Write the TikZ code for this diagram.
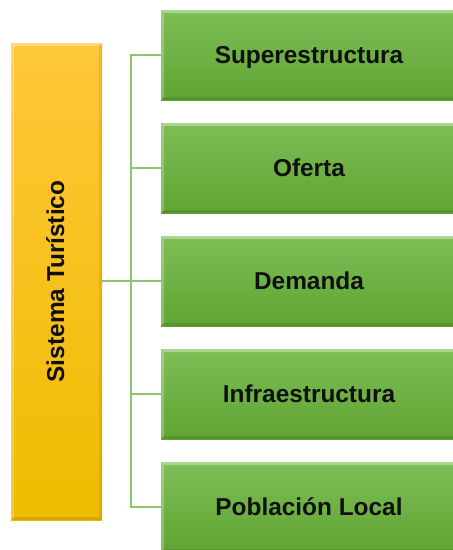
\documentclass[tikz,border=0pt]{standalone}
\usepackage{fontspec}
\setmainfont{Liberation Sans}
\definecolor{gtop}{HTML}{7DBE56}
\definecolor{gbot}{HTML}{60A433}
\definecolor{ytop}{HTML}{FFC73A}
\definecolor{ybot}{HTML}{EFBC00}
\definecolor{connc}{HTML}{8DC56F}
\definecolor{txtc}{HTML}{101010}
\tikzset{
  bevel/.style={path picture={
    \fill[white,opacity=0.35] (path picture bounding box.north west) -- (path picture bounding box.north east) -- ([xshift=-3pt,yshift=-3pt]path picture bounding box.north east) -- ([xshift=3pt,yshift=-3pt]path picture bounding box.north west) -- cycle;
    \fill[white,opacity=0.25] (path picture bounding box.north west) -- (path picture bounding box.south west) -- ([xshift=3pt,yshift=3pt]path picture bounding box.south west) -- ([xshift=3pt,yshift=-3pt]path picture bounding box.north west) -- cycle;
    \fill[black,opacity=0.10] (path picture bounding box.south west) -- (path picture bounding box.south east) -- ([xshift=-3pt,yshift=3pt]path picture bounding box.south east) -- ([xshift=3pt,yshift=3pt]path picture bounding box.south west) -- cycle;
    \fill[black,opacity=0.08] (path picture bounding box.north east) -- (path picture bounding box.south east) -- ([xshift=-3pt,yshift=3pt]path picture bounding box.south east) -- ([xshift=-3pt,yshift=-3pt]path picture bounding box.north east) -- cycle;
  }},
  greenbox/.style={rectangle, draw=none, top color=gtop, bottom color=gbot, bevel,
    minimum width=296pt, minimum height=90pt, inner sep=0pt},
  boxtext/.style={inner sep=0pt, text height=16pt, text depth=0pt,
    font=\bfseries\fontsize{24.4}{28}\selectfont, text=txtc},
  yellowbox/.style={rectangle, draw=none, top color=ytop, bottom color=ybot, bevel,
    minimum width=91pt, minimum height=477pt, inner sep=0pt},
  vlabel/.style={rotate=90, font=\bfseries\fontsize{24.4}{28}\selectfont, text=txtc, inner sep=0pt,
    text height=16pt, text depth=0pt},
  conn/.style={draw=connc, line width=1.5pt}
}
\begin{document}
\begin{tikzpicture}[x=1pt,y=-1pt]
\useasboundingbox (0,0) rectangle (453,550);
\fill[white] (0,0) rectangle (453,550);
\node[yellowbox] (ylw) at (56.5,281.5) {};
\node[vlabel] (ylwt) at (56,281.5) {Sistema Turístico};
\node[greenbox] (b1) at (309,55) {};
\node[greenbox] (b2) at (309,168) {};
\node[greenbox] (b3) at (309,281) {};
\node[greenbox] (b4) at (309,394) {};
\node[greenbox] (b5) at (309,507) {};
\node[boxtext] (t1) at (b1.center) {Superestructura};
\node[boxtext] (t2) at (b2.center) {Oferta};
\node[boxtext] (t3) at (b3.center) {Demanda};
\node[boxtext] (t4) at (b4.center) {Infraestructura};
\node[boxtext] (t5) at (b5.center) {Población Local};
\coordinate (sp) at (131,281);
\draw[conn] (b1.west) -- (b1.west -| sp) -- (b5.west -| sp) -- (b5.west);
\foreach \b in {b2,b3,b4} \draw[conn] (\b.west) -- (\b.west -| sp);
\draw[conn] (ylw.east |- sp) -- (sp);
\end{tikzpicture}
\end{document}
